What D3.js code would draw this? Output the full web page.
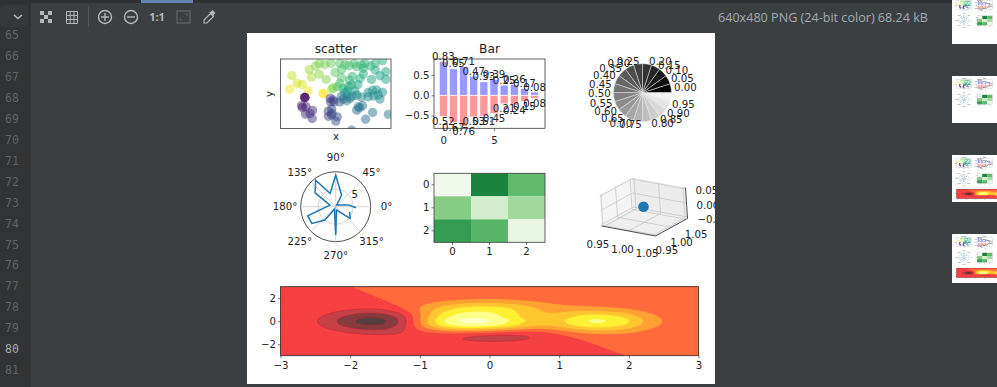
<!DOCTYPE html>
<html>
<head>
<meta charset="utf-8">
<title>640x480 PNG</title>
<style>
  html, body { margin: 0; padding: 0; background: #3c3f41; overflow: hidden; }
  text { font-family: "DejaVu Sans", sans-serif; fill: #222; font-size: 10.2px; }
  .ui text { font-family: "Open Sans", sans-serif; }
</style>
<script src="https://d3js.org/d3.v7.min.js" charset="utf-8"></script>
</head>
<body>
<script>
// editor chrome
var lineNumbers = d3.range(65, 82);
var fileInfo = "640x480 PNG (24-bit color) 68.24 kB";

// scatter
var scatterX = [-1.19,-1.05,-.91,-1.25,-.75,-.34,-.34,-.72,-.66,-.45,-.45,-.26,-.13,.11,-.02,.16,.36,.57,.79,1.07,1.27,.75,1.07,1.36,1.2,1.36,.97,.66,.37,.11,-.07,-.11,.2,.43,.52,.31,.88,1.11,1.27,1.02,1.2,.88,.57,.39,.2,.31,-.84,-.84,-.84,-.93,-.81,-.82,-.63,-.64,-.14,-.07,-.11,.11,-.2,-.11,.04,0,.61,.73,.57,1,.81,1.43,.43,-.3,-.55,.25,.5,.95,.7,.75,.45,.6,.15,.05,.35,.25,.7,1,1.15,.45,.15,.3,-.05,-.15,-.1,-.2,.65,-.7,-.9];
var scatterY = [.78,.45,.4,.2,.13,.014,.014,1.04,.72,1.31,.85,.62,1.31,1.31,.92,1.05,1.21,1.17,1.31,1.31,1.43,1.1,1.02,.95,.78,.62,.62,.66,.59,.45,.26,.19,.23,.38,.12,.12,.06,.16,.06,-.09,-.23,-.13,-.06,-.2,-.23,-.09,-.16,-.16,-.16,-.52,-.55,-.88,-.72,-1.07,-.35,-.27,-.66,-.35,-.97,-.92,-1,-1.18,-.56,-.52,-.71,-.81,-1.1,-.89,-1.57,1.25,1.2,1.25,1.3,1.2,1.25,.85,.75,.4,.7,.3,.3,.05,-.15,.15,-.05,-.1,-.12,-.3,-.35,-.2,-.85,-.75,-.6,-.85,-.6];

// bar
var barUp = [.83,.65,.71,.47,.33,.39,.25,.26,.17,.08];
var barDown = [.52,.67,.76,.53,.51,.45,.21,.24,.15,.08];

// pie
var pieLabels = ["0.00","0.05","0.10","0.15","0.20","0.25","0.30","0.35","0.40","0.45","0.50","0.55","0.60","0.65","0.70","0.75","0.80","0.85","0.90","0.95"];

// polar
var polarAngle = [357,8,60,63,72,90,113,127,146,164,198,215,231,245,270,285,321,340];
var polarRadius = [5.8,3.65,.6,3.75,4.5,9,4.1,9.5,7.1,1.7,8.4,8.3,4.9,.8,8.1,1,5.3,4.2];
var polarRTicks = [5, 10];
var polarDeg = [0,45,90,135,180,225,270,315];

// heatmap
var heatValues = [[.05,.78,.55],[.45,.2,.37],[.68,.57,.1]];
var heatLabels = [0,1,2];

// 3d
var tick3d = [.95,1,1.05];
var zTick3d = ["0.05","0.00","\u22120.05"];

// contour, rows y = 3 .. -3 step .5, columns x = -3 .. 3 step .25
var contourLevels = [-.6,-.4,-.2,0,.2,.4,.6,.8,1];
var contourColors = ["#533f3f","#843c3f","#c44145","#f64143","#ff6b3b","#ffa033","#ffc630","#fff033","#ffff8c","#ffffc8"];
var contourGrid = [
[-.000003,-.000008,-.000016,-.00002,-.000007,.00007,.00027,.00066,.0012,.002,.0027,.0032,.0034,.0032,.0027,.002,.0013,.0008,.00045,.00025,.00014,.00007,.00003,.00001,.000004],
[-.00005,-.00014,-.0003,-.0005,-.0005,.0001,.002,.0058,.0114,.0184,.0252,.0302,.032,.0299,.0246,.0182,.0121,.0077,.0048,.0029,.0017,.0009,.0004,.0002,.00006],
[-.0005,-.0014,-.0031,-.0055,-.0074,-.0056,.0041,.0252,.057,.095,.131,.157,.165,.153,.125,.092,.064,.044,.03,.021,.014,.008,.004,.0016,.0005],
[-.003,-.008,-.019,-.035,-.051,-.055,-.027,.043,.15,.271,.377,.446,.461,.421,.341,.255,.189,.15,.124,.098,.07,.041,.02,.009,.003],
[-.011,-.029,-.067,-.127,-.195,-.232,-.187,-.033,.203,.449,.636,.734,.736,.648,.511,.391,.339,.342,.341,.301,.229,.137,.07,.03,.011],
[-.022,-.063,-.143,-.274,-.426,-.525,-.467,-.213,.179,.562,.816,.914,.876,.732,.55,.438,.466,.582,.652,.605,.472,.285,.146,.063,.022],
[-.029,-.081,-.184,-.352,-.549,-.679,-.613,-.3,.184,.65,.95,1.055,1,.823,.608,.491,.552,.72,.823,.772,.604,.365,.188,.081,.029],
[-.022,-.063,-.143,-.275,-.429,-.532,-.488,-.254,.108,.451,.665,.731,.682,.549,.398,.327,.394,.541,.631,.598,.469,.283,.146,.063,.022],
[-.011,-.03,-.068,-.132,-.209,-.267,-.264,-.188,-.068,.029,.063,.043,0,-.043,-.063,-.029,.068,.188,.264,.267,.215,.132,.068,.03,.011],
[-.003,-.009,-.02,-.039,-.064,-.088,-.102,-.106,-.111,-.134,-.177,-.223,-.25,-.248,-.213,-.151,-.073,.001,.049,.065,.057,.036,.019,.008,.003],
[-.0005,-.0016,-.0037,-.0074,-.0127,-.0193,-.0266,-.0362,-.0506,-.0715,-.0967,-.118,-.128,-.122,-.103,-.074,-.044,-.0175,-.0003,.0073,.0084,.0058,.0032,.0014,.0005],
[-.00006,-.0002,-.0004,-.0009,-.0016,-.0027,-.0043,-.0069,-.0107,-.016,-.0216,-.0262,-.0282,-.0266,-.0222,-.0162,-.01,-.0049,-.0016,.0001,.0006,.0005,.0003,.00014,.00005],
[-.000004,-.00001,-.00003,-.00006,-.00013,-.00024,-.00042,-.00073,-.0012,-.0018,-.0025,-.003,-.0032,-.003,-.0025,-.0018,-.0011,-.0006,-.00025,-.00006,.00001,.00002,.00002,.00001,.000003]
];

var width = 997, height = 387;
var svg = d3.select("body").append("svg")
      .attr("width", width)
      .attr("height", height)
      .style("display", "block");
var defs = svg.append("defs");

//------- editor around the image
var ui = svg.append("g").attr("class", "ui");
ui.append("rect").attr("width", width).attr("height", height).attr("fill", "#3c3f41");
ui.append("rect").attr("width", 31).attr("height", height).attr("fill", "#313335");
ui.append("rect").attr("width", width).attr("height", 3).attr("fill", "#2f3133");
ui.append("rect").attr("x", 141).attr("width", 52).attr("height", 3).attr("fill", "#6584ab");
ui.append("rect").attr("x", 0).attr("y", 5).attr("width", 28).attr("height", 22).attr("rx", 4).attr("fill", "#36383a");
ui.append("path").attr("d", "M14 15 l4 3.5 l4 -3.5").attr("fill", "none").attr("stroke", "#b8babc").attr("stroke-width", 1.4);

ui.selectAll(".lineno").data(lineNumbers).enter().append("text")
    .attr("class", "lineno")
    .attr("x", 12)
    .attr("y", (d, i) => 35 + i * 20.94)
    .attr("dy", "0.36em")
    .attr("text-anchor", "middle")
    .style("font-family", "'DejaVu Sans Mono', monospace")
    .style("font-size", "11.5px")
    .style("fill", d => d == 80 ? "#a9a9a9" : "#5f6366")
    .text(d => d);

ui.append("text").attr("x", 718).attr("y", 22)
    .style("font-size", "12.6px").style("fill", "#a0aab2").text(fileInfo);

// toolbar icons
var icon = "#b5b7b9";
ui.append("path").attr("fill", icon)
    .attr("d", "M40 11h4v4h-4z M48 11h4v4h-4z M44 15h4v4h-4z M40 19h4v4h-4z M48 19h4v4h-4z");
ui.append("path").attr("fill", "none").attr("stroke", icon).attr("stroke-width", 1)
    .attr("d", "M66.5 11.5h11v12h-11z M70.2 11.5v12 M74 11.5v12 M66.5 15.5h11 M66.5 19.5h11");
ui.append("line").attr("x1", 88.5).attr("x2", 88.5).attr("y1", 7).attr("y2", 27).attr("stroke", "#55585a");
ui.append("circle").attr("cx", 105).attr("cy", 17).attr("r", 6.5).attr("fill", "none").attr("stroke", icon).attr("stroke-width", 1.4);
ui.append("path").attr("d", "M101 17h8 M105 13v8").attr("stroke", icon).attr("stroke-width", 1.4);
ui.append("circle").attr("cx", 131).attr("cy", 17).attr("r", 6.5).attr("fill", "none").attr("stroke", icon).attr("stroke-width", 1.4);
ui.append("path").attr("d", "M127 17h8").attr("stroke", icon).attr("stroke-width", 1.4);
ui.append("text").attr("x", 157).attr("y", 21).attr("text-anchor", "middle")
    .style("font-size", "11px").style("font-weight", "700").style("fill", icon).text("1:1");
ui.append("rect").attr("x", 177).attr("y", 11).attr("width", 13).attr("height", 12).attr("fill", "none").attr("stroke", "#5e6163").attr("stroke-width", 1.4);
ui.append("path").attr("d", "M180 18v2h2 M187 16v-2h-2").attr("fill", "none").attr("stroke", "#5e6163");
ui.append("path").attr("d", "M204 23v-3l6.5 -6.5l3 3l-6.5 6.5z").attr("fill", "none").attr("stroke", icon).attr("stroke-width", 1.2);
ui.append("path").attr("d", "M209 12.5l2 -1l1.5 -1.5l3 3l-1.5 1.5l-1 2z").attr("fill", icon);

//------- the png itself
var page = svg.append("g").attr("id", "page");
page.append("rect").attr("x", 247).attr("y", 33).attr("width", 468).attr("height", 351).attr("fill", "#fff");
var upper = page.append("g").attr("id", "upper");
var lower = page.append("g").attr("id", "lower");

function frame(g, x, y, w, h) {
  g.append("rect").attr("x", x).attr("y", y).attr("width", w).attr("height", h)
      .attr("fill", "none").attr("stroke", "#3a3a3a").attr("stroke-width", 0.8);
}
function clip(id, x, y, w, h) {
  defs.append("clipPath").attr("id", id).append("rect")
      .attr("x", x).attr("y", y).attr("width", w).attr("height", h);
  return "url(#" + id + ")";
}
function axisStyle(g) {
  g.selectAll("path").remove();
  g.selectAll("line").attr("stroke", "#222").attr("stroke-width", 0.6);
  g.selectAll("text").attr("font-family", null).attr("font-size", null);
}

//------- scatter
(function () {
  var g = upper.append("g");
  var x = d3.scaleLinear().domain([-1.5, 1.5]).range([280.5, 391]);
  var y = d3.scaleLinear().domain([-1.5, 1.5]).range([128.5, 59]);
  var angle = d3.scaleLinear().domain([-Math.PI, Math.PI]).range([0, 1]);
  g.append("g").attr("clip-path", clip("scatterClip", 280.5, 59, 110.5, 69.5))
    .selectAll("circle").data(scatterX).enter().append("circle")
      .attr("cx", d => x(d))
      .attr("cy", (d, i) => y(scatterY[i]))
      .attr("r", 4.7)
      .attr("fill", (d, i) => d3.interpolateViridis(angle(Math.atan2(scatterY[i], d))))
      .attr("fill-opacity", 0.5);
  frame(g, 280.5, 59, 110.5, 69.5);
  g.append("text").attr("x", 336).attr("y", 53).attr("text-anchor", "middle").style("font-size", "12.2px").text("scatter");
  g.append("text").attr("x", 336).attr("y", 140).attr("text-anchor", "middle").text("x");
  g.append("text").attr("transform", "translate(273,94) rotate(-90)").attr("text-anchor", "middle").text("y");
})();

//------- bar
(function () {
  var g = upper.append("g");
  var x = d3.scaleLinear().domain([-.92, 10.03]).range([434, 545]);
  var y = d3.scaleLinear().domain([-.81, .89]).range([128.3, 59]);
  var idx = d3.range(barUp.length);
  g.selectAll(".up").data(idx).enter().append("rect")
      .attr("x", d => x(d - .4)).attr("width", x(.8) - x(0))
      .attr("y", d => y(barUp[d])).attr("height", d => y(0) - y(barUp[d]))
      .attr("fill", "#9999ff").attr("stroke", "#fff").attr("stroke-width", 0.7);
  g.selectAll(".down").data(idx).enter().append("rect")
      .attr("x", d => x(d - .4)).attr("width", x(.8) - x(0))
      .attr("y", y(0)).attr("height", d => y(-barDown[d]) - y(0))
      .attr("fill", "#ff9999").attr("stroke", "#fff").attr("stroke-width", 0.7);
  frame(g, 434, 59, 111, 69.3);
  g.selectAll(".uplab").data(idx).enter().append("text")
      .attr("x", d => x(d)).attr("y", d => y(barUp[d]) - 1.5)
      .attr("text-anchor", "middle").text(d => barUp[d].toFixed(2));
  g.selectAll(".downlab").data(idx).enter().append("text")
      .attr("x", d => x(d)).attr("y", d => y(-barDown[d]) + 8.5)
      .attr("text-anchor", "middle").text(d => barDown[d].toFixed(2));
  g.append("text").attr("x", 489.5).attr("y", 53).attr("text-anchor", "middle").style("font-size", "12.2px").text("Bar");
  g.append("g").attr("transform", "translate(0,128.3)")
      .call(d3.axisBottom(x).tickValues([0, 5]).tickFormat(d3.format("d")).tickSize(2.6).tickPadding(6)).call(axisStyle);
  g.append("g").attr("transform", "translate(434,0)")
      .call(d3.axisLeft(y).tickValues([-.5, 0, .5]).tickFormat(d => d == 0 ? "0.0" : d < 0 ? "\u22120.5" : "0.5").tickSize(2.6).tickPadding(2)).call(axisStyle);
})();

//------- pie
(function () {
  var g = upper.append("g").attr("transform", "translate(642.5,92.7)");
  var r = 29;
  var n = pieLabels.length;
  var step = 2 * Math.PI / n;
  var arc = d3.arc().innerRadius(0).outerRadius(r);
  // pie runs counter clockwise from 3 o'clock, d3.arc angles run clockwise from 12
  g.selectAll("path").data(pieLabels).enter().append("path")
      .attr("d", (d, i) => arc({
        startAngle: Math.PI / 2 - i * step,
        endAngle: Math.PI / 2 - (i + 1) * step
      }))
      .attr("fill", d => d3.rgb(+d * 255, +d * 255, +d * 255))
      .attr("stroke", "#e4e4e4").attr("stroke-width", 0.5);
  // the labels in the picture fall a bit short of the wedge middles
  var labelAngle = i => (9 + 17.3 * i) * Math.PI / 180;
  g.selectAll("text").data(pieLabels).enter().append("text")
      .attr("x", (d, i) => 1.1 * r * Math.cos(labelAngle(i)))
      .attr("y", (d, i) => -1.1 * r * Math.sin(labelAngle(i)))
      .attr("dy", "0.36em")
      .attr("text-anchor", (d, i) => Math.cos(labelAngle(i)) > 0 ? "start" : "end")
      .text(d => d);
})();

//------- polar
(function () {
  var g = upper.append("g").attr("transform", "translate(335.7,206.7)");
  var r = d3.scaleLinear().domain([0, 10]).range([0, 35]);
  var rad = d => d * Math.PI / 180;
  g.selectAll(".ring").data(polarRTicks).enter().append("circle")
      .attr("r", d => r(d)).attr("fill", "none")
      .attr("stroke", (d, i) => i == 1 ? "#222" : "#b8b8b8")
      .attr("stroke-width", (d, i) => i == 1 ? 0.8 : 0.6);
  g.selectAll(".spoke").data(polarDeg).enter().append("line")
      .attr("x2", d => r(10) * Math.cos(rad(d)))
      .attr("y2", d => -r(10) * Math.sin(rad(d)))
      .attr("stroke", "#b8b8b8").attr("stroke-width", 0.6);
  var line = d3.lineRadial()
      .angle((d, i) => rad(90 - polarAngle[i]))
      .radius((d, i) => r(polarRadius[i]));
  g.append("path").attr("d", line(polarAngle))
      .attr("fill", "none").attr("stroke", "#1f77b4").attr("stroke-width", 1.5);
  g.selectAll(".deg").data(polarDeg).enter().append("text")
      .attr("x", d => 1.45 * r(10) * Math.cos(rad(d)))
      .attr("y", d => -1.4 * r(10) * Math.sin(rad(d)))
      .attr("dy", "0.36em")
      .attr("text-anchor", "middle")
      .text(d => d + "\u00b0");
  g.append("text").attr("x", 19).attr("y", -9).attr("text-anchor", "middle").text("5");
})();

//------- heatmap
(function () {
  var g = upper.append("g");
  var x = d3.scaleBand().domain(heatLabels).range([434, 545]);
  var y = d3.scaleBand().domain(heatLabels).range([173.3, 242.3]);
  heatValues.forEach(function (row, j) {
    g.selectAll(".c" + j).data(row).enter().append("rect")
        .attr("x", (d, i) => x(i)).attr("y", y(j))
        .attr("width", x.bandwidth()).attr("height", y.bandwidth())
        .attr("fill", d => d3.interpolateGreens(d));
  });
  frame(g, 434, 173.3, 111, 69);
  g.append("g").attr("transform", "translate(0,242.3)")
      .call(d3.axisBottom(x).tickSize(2.6).tickPadding(3)).call(axisStyle);
  g.append("g").attr("transform", "translate(434,0)")
      .call(d3.axisLeft(y).tickSize(2.6).tickPadding(2)).call(axisStyle);
})();

//------- 3d
(function () {
  var g = upper.append("g");
  // corners of the box on screen: origin is the back corner of the floor
  var o = [633.5, 208.5], ex = [-32, 17.5], ey = [54, 10], ez = [-2, -31];
  function project(a, b, c) {
    return [o[0] + a * ex[0] + b * ey[0] + c * ez[0], o[1] + a * ex[1] + b * ey[1] + c * ez[1]];
  }
  // a: along the left floor edge, b: to the right, c: up
  var panel = pts => "M" + pts.map(p => project(p[0], p[1], p[2]).join(",")).join("L") + "Z";
  g.append("path").attr("d", panel([[0,0,0],[1,0,0],[1,1,0],[0,1,0]])).attr("fill", "#efefef");
  g.append("path").attr("d", panel([[0,0,0],[1,0,0],[1,0,1],[0,0,1]])).attr("fill", "#f5f5f5");
  g.append("path").attr("d", panel([[0,0,0],[0,1,0],[0,1,1],[0,0,1]])).attr("fill", "#ececec");
  var unit = d3.scaleLinear().domain([.945, 1.055]).range([0, 1]);
  var gridSeg = [];
  tick3d.forEach(function (v) {
    var t = unit(v);
    gridSeg.push([[t,0,0],[t,1,0]], [[t,0,0],[t,0,1]], [[0,t,0],[1,t,0]], [[0,t,0],[0,t,1]], [[0,0,t],[1,0,t]], [[0,0,t],[0,1,t]]);
  });
  g.selectAll(".grid3d").data(gridSeg).enter().append("path")
      .attr("d", d => "M" + project(...d[0]).join(",") + "L" + project(...d[1]).join(","))
      .attr("stroke", "#c2c2c2").attr("stroke-width", 0.7);
  var axisPts = [[1,0,0],[1,1,0],[0,1,0],[0,1,1]];
  g.append("path").attr("d", "M" + axisPts.map(p => project(...p).join(",")).join("L"))
      .attr("fill", "none").attr("stroke", "#222").attr("stroke-width", 0.8);
  var p = project(.5, .5, .5);
  g.append("circle").attr("cx", p[0]).attr("cy", p[1]).attr("r", 5.3).attr("fill", "#1f77b4");
  // tick labels
  tick3d.forEach(function (v, i) {
    var t = unit(v);
    var a = project(1, t, 0);
    g.append("text").attr("x", a[0] - 6).attr("y", a[1] + 21.5).attr("text-anchor", "middle").text(v.toFixed(2));
    var b = project(1 - t, 1, 0);
    g.append("text").attr("x", b[0] + 10).attr("y", b[1] + 19).attr("text-anchor", "middle").text(v.toFixed(2));
  });
  // the z labels run into the right edge of the png and get cut there
  var zg = g.append("g").attr("clip-path", clip("pageClip", 247, 33, 468, 351));
  zTick3d.forEach(function (v, i) {
    var c = project(0, 1, unit(1.05 - i * .05));
    zg.append("text").attr("x", c[0] + 10).attr("y", c[1] + 5.5).text(v);
  });
})();

//------- contour
(function () {
  var g = lower.append("g");
  var x = d3.scaleLinear().domain([-3, 3]).range([280.5, 698.5]);
  var y = d3.scaleLinear().domain([-3, 3]).range([355.7, 286.7]);

  // resample the value table so the band edges come out round. the table falls from 1 to
  // a millionth towards the corners, so the spline runs on it with that falloff divided out
  var rows = contourGrid.length, cols = contourGrid[0].length;
  var W = 241, H = 121;
  var gridX = i => -3 + i * .25, gridY = j => 3 - j * .5;
  var falloff = (vx, vy) => Math.exp(-vx * vx - vy * vy);
  function catmull(a, b, c, d, t) {
    return .5 * (2 * b + (c - a) * t + (2 * a - 5 * b + 4 * c - d) * t * t + (3 * b - a - 3 * c + d) * t * t * t);
  }
  function at(j, i) {
    var jj = Math.max(0, Math.min(rows - 1, j)), ii = Math.max(0, Math.min(cols - 1, i));
    return contourGrid[jj][ii] / falloff(gridX(ii), gridY(jj));
  }
  var values = new Array(W * H);
  for (var py = 0; py < H; py++) {
    var fy = py / (H - 1) * (rows - 1), j = Math.min(rows - 2, Math.floor(fy)), ty = fy - j;
    for (var px = 0; px < W; px++) {
      var fx = px / (W - 1) * (cols - 1), i = Math.min(cols - 2, Math.floor(fx)), tx = fx - i;
      var col = [j - 1, j, j + 1, j + 2].map(r => catmull(at(r, i - 1), at(r, i), at(r, i + 1), at(r, i + 2), tx));
      values[py * W + px] = catmull(col[0], col[1], col[2], col[3], ty) * falloff(gridX(fx), gridY(fy));
    }
  }
  var contours = d3.contours().size([W, H]).thresholds(contourLevels)(values);
  var toScreen = d3.geoTransform({
    point: function (cx, cy) {
      this.stream.point(x(-3 + (cx - .5) / (W - 1) * 6), y(3 - (cy - .5) / (H - 1) * 6));
    }
  });
  var path = d3.geoPath(toScreen);
  var body = g.append("g").attr("clip-path", clip("contourClip", 280.5, 286.7, 418, 69));
  body.append("rect").attr("x", 280.5).attr("y", 286.7).attr("width", 418).attr("height", 69).attr("fill", contourColors[0]);
  body.selectAll("path").data(contours).enter().append("path")
      .attr("d", path)
      .attr("fill", (d, i) => contourColors[i + 1])
      .attr("stroke", d => d.value < 0 ? "#c8203a" : "none")
      .attr("stroke-width", 0.5);
  frame(g, 280.5, 286.7, 418, 69);
  g.append("g").attr("transform", "translate(0,355.7)")
      .call(d3.axisBottom(x).tickValues(d3.range(-3, 4)).tickFormat(d => d < 0 ? "\u2212" + (-d) : d).tickSize(2.6).tickPadding(3)).call(axisStyle);
  g.append("g").attr("transform", "translate(280.5,0)")
      .call(d3.axisLeft(y).tickValues([-2, 0, 2]).tickFormat(d => d < 0 ? "\u2212" + (-d) : d).tickSize(2.6).tickPadding(2)).call(axisStyle);
})();

//------- thumbnails at the right edge, small copies of the same picture
var thumbTop = [-3, 76, 155, 234];
var thumbHeight = [47, 47, 47, 49];
thumbTop.forEach(function (top, i) {
  var t = svg.append("g").attr("clip-path", clip("thumb" + i, 952, top, 45, thumbHeight[i]));
  t.append("rect").attr("x", 952).attr("y", top).attr("width", 45).attr("height", thumbHeight[i]).attr("fill", "#fff");
  var u = t.append("g").attr("transform", "translate(" + (952 - 247 * .135) + "," + (top - 33 * .135) + ") scale(.135)");
  u.append("use").attr("href", "#upper");
  if (i >= 2) u.append("use").attr("href", "#lower");
});
</script>
</body>
</html>
